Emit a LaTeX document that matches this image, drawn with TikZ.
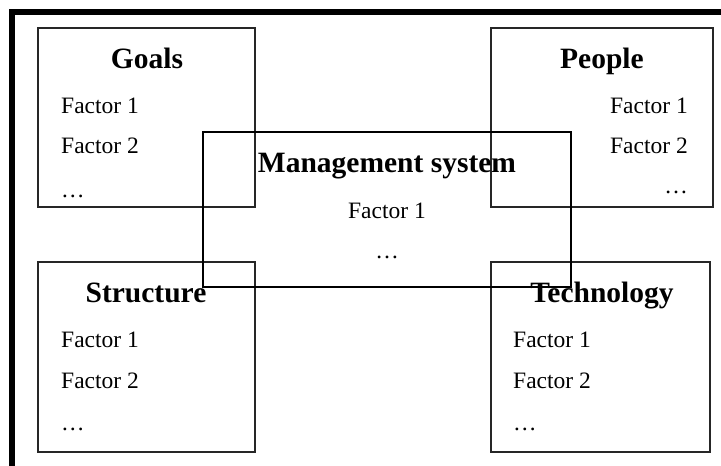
\documentclass[tikz,border=0pt]{standalone}
\usepackage{fontspec}
\setmainfont{Liberation Serif}
\begin{document}
\begin{tikzpicture}[x=1pt,y=-1pt,
  box/.style={draw=black!85,line width=1.8pt,inner sep=0pt},
  mgmt/.style={draw=black,line width=1.8pt,inner sep=0pt},
  heading/.style={font=\fontsize{29.5}{35}\selectfont\bfseries,inner sep=0pt},
  factor/.style={font=\fontsize{23.5}{28}\selectfont,inner sep=0pt}]
\useasboundingbox (0,0) rectangle (721,466);
\clip (0,0) rectangle (721,466);
% outer frame, running off the right and bottom edges
\draw[line width=6pt] (12,12) rectangle (740,490);
% four corner boxes
\node[box,minimum width=217pt,minimum height=179pt] (goals) at (146.5,117.5) {};
\node[box,minimum width=222pt,minimum height=179pt] (people) at (602,117.5) {};
\node[box,minimum width=217pt,minimum height=190pt] (structure) at (146.5,357) {};
\node[box,minimum width=219pt,minimum height=190pt] (technology) at (600.5,357) {};
% management system box overlapping the others
\node[mgmt,minimum width=368pt,minimum height=155pt] (mgmt) at (387,209.5) {};
% Goals
\node[heading,anchor=base] (goalsT) at (147,68) {Goals};
\node[factor,anchor=base west] (g1) at (61,113) {Factor 1};
\node[factor,anchor=base west] (g2) at (61,153) {Factor 2};
\node[factor,anchor=base west] (g3) at (61,197) {\dots};
% People
\node[heading,anchor=base] (peopleT) at (602,68) {People};
\node[factor,anchor=base east] (p1) at (688,113) {Factor 1};
\node[factor,anchor=base east] (p2) at (688,153) {Factor 2};
\node[factor,anchor=base east] (p3) at (688,193) {\dots};
% Structure
\node[heading,anchor=base] (structureT) at (146,302) {Structure};
\node[factor,anchor=base west] (s1) at (61,347) {Factor 1};
\node[factor,anchor=base west] (s2) at (61,388) {Factor 2};
\node[factor,anchor=base west] (s3) at (61,430) {\dots};
% Technology
\node[heading,anchor=base] (technologyT) at (602,302) {Technology};
\node[factor,anchor=base west] (t1) at (513,347) {Factor 1};
\node[factor,anchor=base west] (t2) at (513,388) {Factor 2};
\node[factor,anchor=base west] (t3) at (513,430) {\dots};
% Management system
\node[heading,anchor=base] (mgmtT) at (387,172) {Management system};
\node[factor,anchor=base] (m1) at (387,218) {Factor 1};
\node[factor,anchor=base] (m2) at (387,258) {\dots};
\end{tikzpicture}
\end{document}
